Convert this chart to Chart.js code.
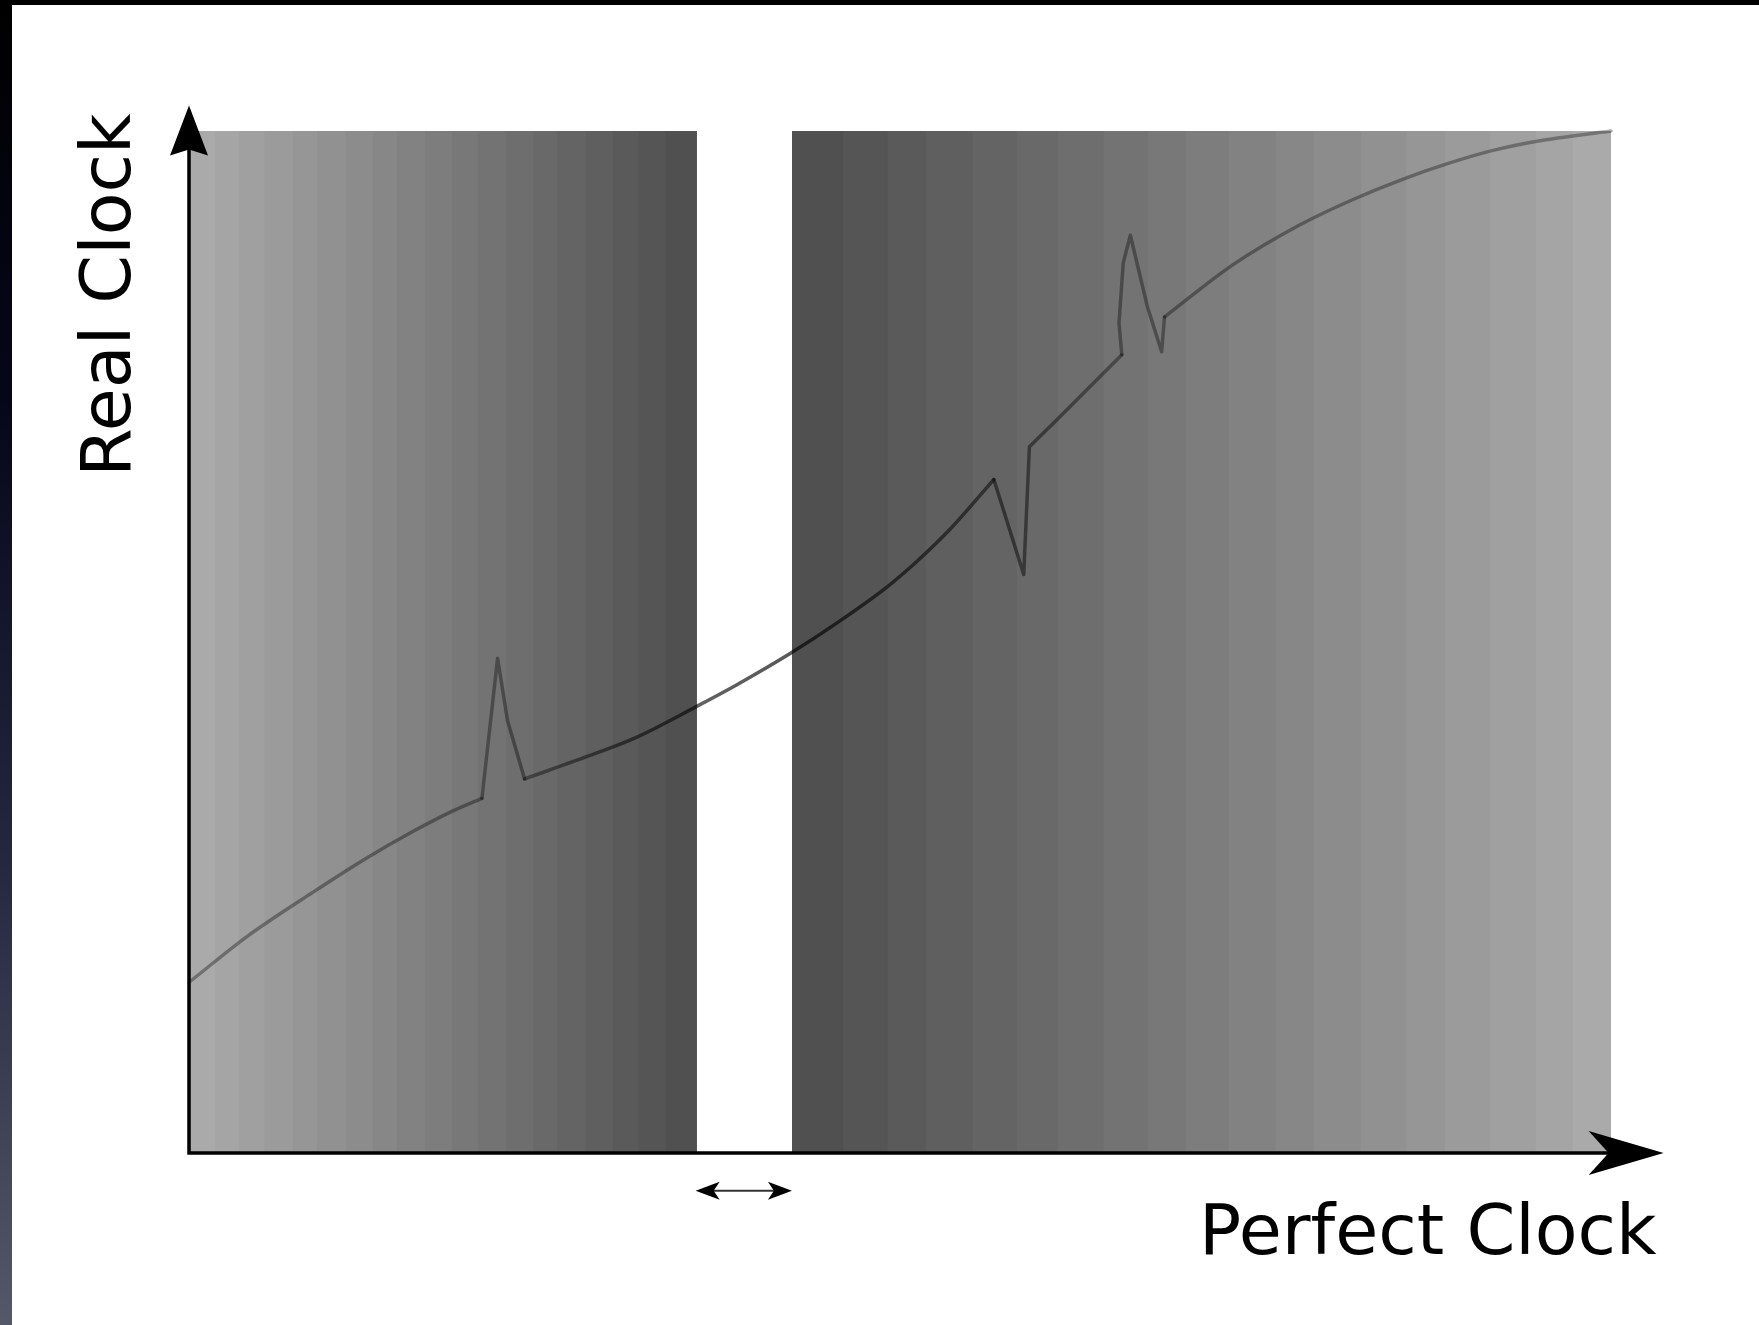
<!DOCTYPE html>
<html>
<head>
<meta charset="utf-8">
<script src="https://cdn.jsdelivr.net/npm/chart.js@4.4.0/dist/chart.umd.min.js"></script>
<style>
    html, body
    {
        margin: 0;
        padding: 0;
        background: #ffffff;
        overflow: hidden;
    }

    #frameTop
    {
        position: absolute;
        left: 0;
        top: 0;
        width: 1759px;
        height: 5px;
        background: #000000;
    }

    #frameLeft
    {
        position: absolute;
        left: 0;
        top: 0;
        width: 12px;
        height: 1325px;
        background: linear-gradient(#000000 0%, #06061a 30%, #24273f 65%, #555869 100%);
    }

    #clockChart
    {
        position: absolute;
        left: 0;
        top: 0;
    }
</style>
</head>
<body>
<canvas id="clockChart" width="1759" height="1325"></canvas>
<div id="frameTop"></div>
<div id="frameLeft"></div>

<script>
// band edges (perfect clock units, 0..100), left block then right block
const leftBandEdges = [0, 1.8, 3.5, 5.3, 7.3, 9.0, 11.0, 12.9, 14.6, 16.6, 18.5, 20.3, 22.3, 24.2, 25.9, 27.9, 29.8, 31.6, 33.5, 35.7];
const rightBandEdges = [42.4, 46.0, 49.1, 51.8, 55.1, 58.2, 61.1, 64.3, 67.4, 70.1, 73.1, 76.4, 79.1, 82.4, 85.6, 88.3, 91.5, 94.7, 97.3, 100];

// grey level of each band
const leftBandGrays = [170, 165, 160, 155, 150, 145, 140, 135, 130, 125, 120, 115, 110, 105, 100, 95, 90, 85, 80];
const rightBandGrays = [80, 85, 90, 95, 100, 105, 110, 115, 120, 125, 130, 135, 140, 145, 150, 155, 160, 165, 170];

// real clock vs perfect clock
const curveX = [0, 4.1, 8.7, 12.3, 15.8, 18.6, 20.6, 21.7, 22.4, 23.6, 28.0, 31.5, 35.7, 38.5, 42.3, 45.6, 49.1, 51.2, 53.5, 56.6, 58.7, 59.1, 61.0, 65.6, 65.4, 65.7, 66.2, 67.4, 68.4, 68.6, 73.4, 78.1, 81.7, 85.2, 88.5, 91.7, 94.8, 100];
const curveY = [16.7, 21.2, 25.5, 28.7, 31.5, 33.5, 34.7, 48.4, 42.3, 36.6, 38.8, 40.7, 43.7, 45.8, 48.9, 51.9, 55.4, 57.9, 61.0, 65.9, 56.6, 69.1, 71.7, 78.1, 81.2, 87.1, 89.8, 82.8, 78.4, 81.8, 86.9, 90.8, 93.2, 95.2, 96.8, 98.1, 99.0, 100];

// index ranges of the curve: smooth drift parts and sharp glitches
const smoothParts = [[0, 6], [9, 19], [29, 37]];
const sharpParts = [[6, 9], [19, 23], [23, 29]];

const xLabel = "Perfect Clock";
const yLabel = "Real Clock";

const X_ARROW_END = 103.7;
const Y_ARROW_END = 102.5;
const GAP_ARROW_Y = -3.7;

function grayColor(level)
{
    return "rgb(" + level + "," + level + "," + level + ")";
}

// each band runs to the end of its block, the next band covers the rest (no seams)
function createBandDatasets(edges, grays)
{
    const datasets = [];
    const blockEnd = edges[edges.length - 1];

    for (let i = 0; i < grays.length; i++)
    {
        datasets.push(
        {
            data:
            [
                { x: edges[i], y: 100 },
                { x: blockEnd, y: 100 }
            ],
            borderWidth: 0,
            pointRadius: 0,
            backgroundColor: grayColor(grays[i]),
            fill: "start",
            order: 100 - i
        });
    }

    return datasets;
}

function curveColor(context)
{
    const chart = context.chart;
    const area = chart.chartArea;

    if (!area)
    {
        return "rgba(0,0,0,0.45)";
    }

    const g = chart.ctx.createLinearGradient(area.left, 0, area.right, 0);
    g.addColorStop(0.00, "rgba(0,0,0,0.34)");
    g.addColorStop(0.22, "rgba(0,0,0,0.36)");
    g.addColorStop(0.36, "rgba(0,0,0,0.62)");
    g.addColorStop(0.43, "rgba(0,0,0,0.66)");
    g.addColorStop(0.55, "rgba(0,0,0,0.52)");
    g.addColorStop(0.66, "rgba(0,0,0,0.36)");
    g.addColorStop(1.00, "rgba(0,0,0,0.32)");
    return g;
}

function curvePoints(from, to)
{
    const pts = [];

    for (let i = from; i <= to; i++)
    {
        pts.push({ x: curveX[i], y: curveY[i] });
    }

    return pts;
}

function createCurveDataset(range, smooth)
{
    return {
        data: curvePoints(range[0], range[1]),
        borderColor: curveColor,
        borderWidth: 3.5,
        borderJoinStyle: "round",
        borderCapStyle: "round",
        pointRadius: 0,
        tension: smooth ? 0.4 : 0,
        cubicInterpolationMode: smooth ? "monotone" : "default",
        fill: false,
        clip: false,
        order: 0
    };
}

function drawArrowHead(ctx, tipX, tipY, dirX, dirY, length, halfWidth, notch)
{
    const nx = -dirY;
    const ny = dirX;
    const baseX = tipX - dirX * length;
    const baseY = tipY - dirY * length;

    ctx.beginPath();
    ctx.moveTo(tipX, tipY);
    ctx.lineTo(baseX + nx * halfWidth, baseY + ny * halfWidth);
    ctx.lineTo(baseX + dirX * notch, baseY + dirY * notch);
    ctx.lineTo(baseX - nx * halfWidth, baseY - ny * halfWidth);
    ctx.closePath();
    ctx.fill();
}

const axesPlugin =
{
    id: "clockAxes",
    afterDatasetsDraw(chart)
    {
        const ctx = chart.ctx;
        const xs = chart.scales.x;
        const ys = chart.scales.y;

        const x0 = xs.getPixelForValue(0);
        const y0 = ys.getPixelForValue(0);
        const xTip = xs.getPixelForValue(X_ARROW_END);
        const yTip = ys.getPixelForValue(Y_ARROW_END);

        ctx.save();
        ctx.strokeStyle = "#000000";
        ctx.fillStyle = "#000000";
        ctx.lineWidth = 3.5;
        ctx.lineCap = "butt";

        ctx.beginPath();
        ctx.moveTo(x0 - 1.5, y0);
        ctx.lineTo(xTip - 40, y0);
        ctx.moveTo(x0, y0 + 1.5);
        ctx.lineTo(x0, yTip + 30);
        ctx.stroke();

        drawArrowHead(ctx, xTip, y0, 1, 0, 75, 22, 20);
        drawArrowHead(ctx, x0, yTip, 0, -1, 50, 19, 6);

        // width of the gap between the two blocks
        const gapL = xs.getPixelForValue(leftBandEdges[leftBandEdges.length - 1]);
        const gapR = xs.getPixelForValue(rightBandEdges[0]);
        const gy = ys.getPixelForValue(GAP_ARROW_Y);

        ctx.strokeStyle = "#333333";
        ctx.lineWidth = 2;
        ctx.beginPath();
        ctx.moveTo(gapL + 12, gy);
        ctx.lineTo(gapR - 12, gy);
        ctx.stroke();

        drawArrowHead(ctx, gapL - 1, gy, -1, 0, 24, 9, 6);
        drawArrowHead(ctx, gapR, gy, 1, 0, 24, 9, 6);

        ctx.font = "70px 'DejaVu Sans'";
        ctx.fillStyle = "#000000";
        ctx.textAlign = "right";
        ctx.textBaseline = "alphabetic";
        ctx.fillText(xLabel, xTip - 7, y0 + 101);

        ctx.translate(x0 - 59, ys.getPixelForValue(Y_ARROW_END) + 8);
        ctx.rotate(-Math.PI / 2);
        ctx.textAlign = "right";
        ctx.fillText(yLabel, 0, 0);

        ctx.restore();
    }
};

window.addEventListener("load", () =>
{
    const canvas = document.getElementById("clockChart");

    let datasets = [];

    smoothParts.forEach((range) =>
    {
        datasets.push(createCurveDataset(range, true));
    });

    sharpParts.forEach((range) =>
    {
        datasets.push(createCurveDataset(range, false));
    });

    datasets = datasets
        .concat(createBandDatasets(leftBandEdges, leftBandGrays))
        .concat(createBandDatasets(rightBandEdges, rightBandGrays));

    new Chart(canvas.getContext("2d"),
    {
        type: "line",
        data:
        {
            datasets: datasets
        },
        options:
        {
            animation: false,
            responsive: false,
            devicePixelRatio: 1,
            layout:
            {
                padding:
                {
                    left: 189,
                    top: 131,
                    right: 148,
                    bottom: 172
                }
            },
            plugins:
            {
                legend: { display: false },
                tooltip: { enabled: false }
            },
            scales:
            {
                x:
                {
                    type: "linear",
                    min: 0,
                    max: 100,
                    display: false
                },
                y:
                {
                    type: "linear",
                    min: 0,
                    max: 100,
                    display: false
                }
            }
        },
        plugins: [axesPlugin]
    });
});
</script>
</body>
</html>
